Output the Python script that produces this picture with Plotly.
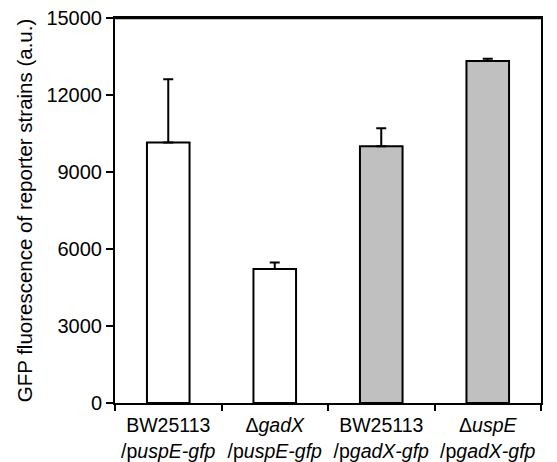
import plotly.graph_objects as go

categories = [
    "BW25113<br>/p<i>uspE-gfp</i>",
    "Δ<i>gadX</i><br>/p<i>uspE-gfp</i>",
    "BW25113<br>/p<i>gadX-gfp</i>",
    "Δ<i>uspE</i><br>/p<i>gadX-gfp</i>",
]
values = [10150, 5220, 10000, 13320]
errors = [2460, 250, 700, 90]
fill_colors = ["#FFFFFF", "#FFFFFF", "#C0C0C0", "#C0C0C0"]

y_ticks = [0, 3000, 6000, 9000, 12000, 15000]
y_title = "GFP fluorescence of reporter strains (a.u.)"

FONT = "Liberation Sans, Arial, sans-serif"

fig = go.Figure(
    go.Bar(
        x=categories,
        y=values,
        width=0.4,
        marker=dict(color=fill_colors, line=dict(color="black", width=2)),
        error_y=dict(type="data", array=errors, symmetric=False,
                     arrayminus=[0] * len(values),
                     color="black", thickness=2, width=5),
    )
)

fig.update_layout(
    width=557,
    height=462,
    margin=dict(l=115, r=16, t=18, b=59),
    paper_bgcolor="white",
    plot_bgcolor="white",
    showlegend=False,
    font=dict(family=FONT, size=20, color="black"),
    shapes=[
        dict(type="line", xref="paper", yref="paper", x0=0, x1=1, y0=1, y1=1,
             line=dict(color="black", width=2.5), layer="above"),
    ],
)

fig.update_xaxes(
    type="category",
    range=[-0.5, 3.5],
    tickson="boundaries",
    tickangle=0,
    ticks="outside",
    ticklen=6,
    tickwidth=2,
    tickcolor="black",
    showline=True,
    linecolor="black",
    linewidth=2,
    mirror=True,
    showgrid=False,
    automargin=False,
    ticklabelstandoff=4,
    tickfont=dict(size=19.5),
)

fig.update_yaxes(
    range=[0, 15000],
    tickvals=y_ticks,
    ticktext=[str(v) for v in y_ticks],
    ticks="outside",
    ticklen=7,
    tickwidth=2,
    tickcolor="black",
    showline=True,
    linecolor="black",
    linewidth=2,
    mirror=True,
    showgrid=False,
    zeroline=False,
    automargin=False,
    title=dict(text=y_title, font=dict(size=20.5), standoff=8),
    tickfont=dict(size=20),
)

fig.write_html("out.html")
